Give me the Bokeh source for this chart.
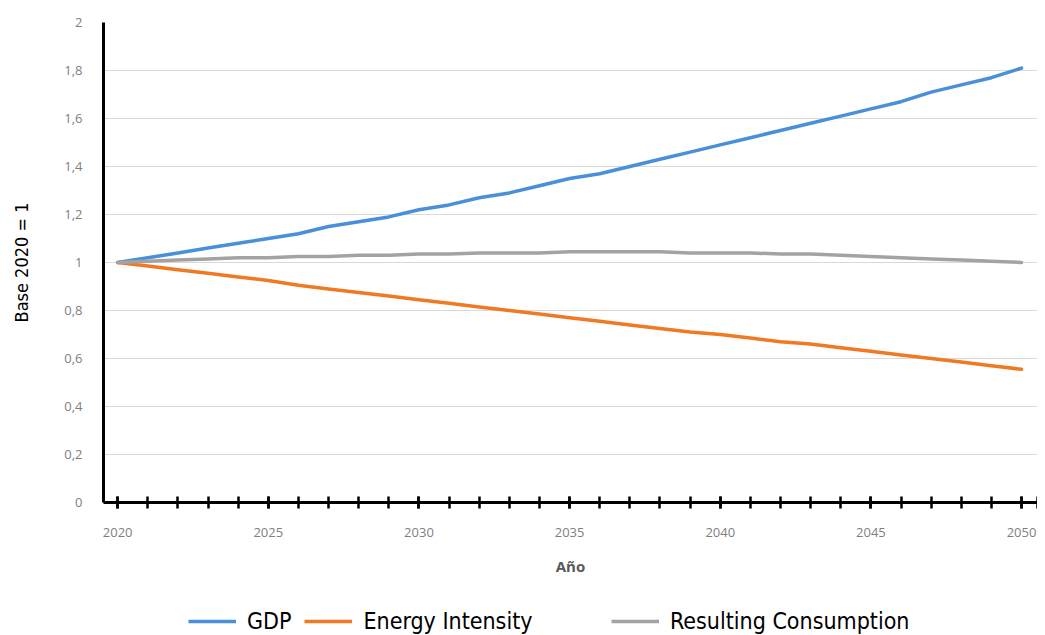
from bokeh.plotting import figure
from bokeh.layouts import column
from bokeh.models import Range1d, FixedTicker, Legend, LegendItem, CustomJSTickFormatter
from bokeh.embed import file_html
from bokeh.resources import INLINE

years = list(range(2020, 2051))
gdp = [1.00, 1.02, 1.04, 1.06, 1.08, 1.10, 1.12, 1.15, 1.17, 1.19, 1.22,
       1.24, 1.27, 1.29, 1.32, 1.35, 1.37, 1.40, 1.43, 1.46, 1.49,
       1.52, 1.55, 1.58, 1.61, 1.64, 1.67, 1.71, 1.74, 1.77, 1.81]
energy_intensity = [1.00, 0.985, 0.97, 0.955, 0.94, 0.925, 0.905, 0.89, 0.875, 0.86, 0.845,
                    0.83, 0.815, 0.80, 0.785, 0.77, 0.755, 0.74, 0.725, 0.71, 0.70,
                    0.685, 0.67, 0.66, 0.645, 0.63, 0.615, 0.60, 0.585, 0.57, 0.555]
consumption = [1.00, 1.005, 1.01, 1.015, 1.02, 1.02, 1.025, 1.025, 1.03, 1.03, 1.035,
               1.035, 1.04, 1.04, 1.04, 1.045, 1.045, 1.045, 1.045, 1.04, 1.04,
               1.04, 1.035, 1.035, 1.03, 1.025, 1.02, 1.015, 1.01, 1.005, 1.00]
x_labels = [2020, 2025, 2030, 2035, 2040, 2045, 2050]
y_ticks = [0, 0.2, 0.4, 0.6, 0.8, 1.0, 1.2, 1.4, 1.6, 1.8, 2.0]
series_names = ["GDP", "Energy Intensity", "Resulting Consumption"]
colors = ["#4A8FD9", "#EF7A22", "#A3A3A3"]

x_start, x_end = 2019.53, 2050.53
COND = "DejaVu Sans Condensed, Roboto, sans-serif"
NAN = float("nan")

p = figure(frame_width=934, frame_height=480, output_backend="svg", toolbar_location=None,
           x_range=Range1d(x_start, x_end), y_range=Range1d(0, 2),
           min_border_left=103, min_border_right=0, min_border_top=22, min_border_bottom=80)
p.outline_line_color = None
p.xgrid.grid_line_color = None
p.ygrid.grid_line_color = "#D9D9D9"
p.ygrid.grid_line_width = 1
p.ygrid.ticker = FixedTicker(ticks=y_ticks)

for vals, col in zip([gdp, energy_intensity, consumption], colors):
    p.line(years, vals, line_color=col, line_width=3.5, line_cap="round", line_join="round")

# x axis
xa = p.xaxis[0]
xa.ticker = FixedTicker(ticks=x_labels, minor_ticks=years + [x_end])
xa.axis_line_color = "black"
xa.axis_line_width = 3
xa.major_tick_line_color = "black"
xa.major_tick_line_width = 2.5
xa.major_tick_in = 6
xa.major_tick_out = 6
xa.minor_tick_line_color = "black"
xa.minor_tick_line_width = 2.5
xa.minor_tick_in = 6
xa.minor_tick_out = 6
xa.major_label_standoff = 19
xa.major_label_text_font = "Open Sans"
xa.major_label_text_font_size = "13px"
xa.major_label_text_color = "#7F7F7F"
xa.axis_label = "Año"
xa.axis_label_text_font = "Open Sans"
xa.axis_label_text_font_size = "15px"
xa.axis_label_text_font_style = "bold"
xa.axis_label_text_color = "#595959"
xa.axis_label_standoff = 16

# y axis
ya = p.yaxis[0]
ya.ticker = FixedTicker(ticks=y_ticks)
ya.formatter = CustomJSTickFormatter(code="return (Math.round(tick*10)/10).toString().replace('.', ',');")
ya.axis_line_color = "black"
ya.axis_line_width = 3
ya.major_tick_line_color = None
ya.major_tick_in = 0
ya.major_tick_out = 0
ya.minor_tick_line_color = None
ya.major_label_standoff = 21
ya.major_label_text_font = "Open Sans"
ya.major_label_text_font_size = "13px"
ya.major_label_text_color = "#7F7F7F"
ya.axis_label = "Base 2020 = 1"
ya.axis_label_text_font = COND
ya.axis_label_text_font_size = "18px"
ya.axis_label_text_font_style = "normal"
ya.axis_label_text_color = "#000000"
ya.axis_label_standoff = 29

# legend strip (separate figure so the legend is not clipped)
lg = figure(width=1037, height=53, output_backend="svg", toolbar_location=None,
            x_axis_type=None, y_axis_type=None,
            min_border_left=0, min_border_right=0, min_border_top=0, min_border_bottom=0)
lg.outline_line_color = None
lg.grid.visible = False
dummy = [lg.line([NAN], [NAN], line_color=c, line_width=3.5) for c in colors]


def make_legend(idx, loc):
    leg = Legend(items=[LegendItem(label=series_names[i], renderers=[dummy[i]]) for i in idx],
                 orientation="horizontal", location=loc)
    leg.border_line_color = None
    leg.background_fill_alpha = 0
    leg.glyph_width = 48
    leg.label_standoff = 11
    leg.spacing = 13
    leg.label_text_font = COND
    leg.label_text_font_size = "23px"
    leg.label_text_color = "#000000"
    leg.padding = 0
    leg.margin = 0
    return leg


lg.add_layout(make_legend([0, 1], (85, 1)))
lg.add_layout(make_legend([2], (508, 1)))

layout = column(p, lg, spacing=0)
open("out.html", "w").write(file_html(layout, INLINE))
